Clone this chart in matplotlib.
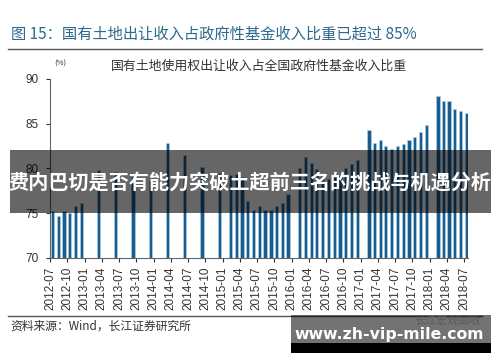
import matplotlib
matplotlib.use("Agg")
import matplotlib.pyplot as plt
from matplotlib.patches import Rectangle
import pandas as pd

# ---- data ----
months = ['2012-07', '2012-08', '2012-09', '2012-10', '2012-11', '2012-12',
          '2013-03', '2013-06', '2013-09', '2013-12',
          '2014-03', '2014-06', '2014-09', '2014-12',
          '2015-02', '2015-03', '2015-04', '2015-05', '2015-06', '2015-07',
          '2015-08', '2015-09', '2015-10', '2015-11', '2015-12',
          '2016-02', '2016-03', '2016-04', '2016-05', '2016-06', '2016-07',
          '2016-08', '2016-09', '2016-10', '2016-11', '2016-12',
          '2017-02', '2017-03', '2017-04', '2017-05', '2017-06', '2017-07',
          '2017-08', '2017-09', '2017-10', '2017-11', '2017-12',
          '2018-02', '2018-03', '2018-04', '2018-05', '2018-06', '2018-07']
share = [75.2, 74.7, 75.2, 75.0, 75.8, 76.1,
         79.8, 79.6, 79.0, 78.6,
         82.9, 81.5, 80.2, 79.5,
         79.3, 79.4, 79.0, 76.4, 75.4, 75.8,
         75.4, 75.4, 75.8, 76.2, 77.2,
         80.1, 81.3, 80.6, 79.9, 79.1, 78.8,
         79.0, 79.3, 80.0, 80.5, 81.0,
         84.3, 82.8, 83.2, 82.5, 82.2, 82.5,
         82.7, 83.2, 83.5, 84.1, 84.9,
         88.1, 87.5, 87.5, 86.7, 86.4, 86.2]
tick_labels = ['2012-07', '2012-10', '2013-01', '2013-04', '2013-07', '2013-10',
               '2014-01', '2014-04', '2014-07', '2014-10', '2015-01', '2015-04',
               '2015-07', '2015-10', '2016-01', '2016-04', '2016-07', '2016-10',
               '2017-01', '2017-04', '2017-07', '2017-10', '2018-01', '2018-04',
               '2018-07']
y_ticks = [70, 75, 80, 85, 90]

title = '图 15：国有土地出让收入占政府性基金收入比重已超过 85%'
chart_title = '国有土地使用权出让收入占全国政府性基金收入比重'
unit = '(%)'
source = '资料来源：Wind，长江证券研究所'
headline = '费内巴切是否有能力突破土超前三名的挑战与机遇分析'
watermark = 'www.zh-vip-mile.com'
faint_mark = '长江宏观固收'

CJK = ['Noto Sans CJK SC', 'DejaVu Sans']
W, H = 500, 362

def fx(x):
    return x / W

def fy(y):
    return 1 - y / H

fig = plt.figure(figsize=(W / 100, H / 100), dpi=100)
fig.patch.set_facecolor('white')

ax = fig.add_axes([fx(50), fy(258), fx(468) - fx(50), fy(79) - fy(258)])
dates = pd.to_datetime(months) + pd.Timedelta(days=12)
ax.bar(dates, share, width=17, color='#1d5b8a', edgecolor='#a9d3ea',
       linewidth=0.5, zorder=2)
ax.set_ylim(70, 90)
ax.set_yticks(y_ticks)
ax.set_xlim(pd.Timestamp('2012-07-01'), pd.Timestamp('2018-07-22'))
ax.set_xticks(pd.to_datetime(tick_labels))
ax.set_xticklabels(tick_labels, rotation=90, fontsize=8.5,
                   family='Liberation Sans', color='#333333')
ax.tick_params(axis='y', labelsize=8.5, colors='#333333', length=3, pad=5,
               width=0.8)
ax.tick_params(axis='x', length=3, pad=3, width=0.8, colors='#333333')
for lab in ax.get_yticklabels():
    lab.set_family('Liberation Sans')
for s in ['top', 'right']:
    ax.spines[s].set_visible(False)
for s in ['left', 'bottom']:
    ax.spines[s].set_color('#666666')
    ax.spines[s].set_linewidth(0.8)
ax.set_facecolor('white')

# titles and frame texts
fig.text(fx(11), fy(34), title, family=CJK, fontsize=11, color='#2a6a8e',
         va='center', ha='left')
fig.add_artist(plt.Line2D([fx(8), fx(482)], [fy(48.5), fy(48.5)],
                          color='#555555', lw=1.0))
fig.text(fx(60), fy(64), unit, family=CJK, fontsize=5.5, color='#333333',
         va='center', ha='center')
fig.text(fx(259), fy(66), chart_title, family=CJK, fontsize=9.3,
         color='#333333', va='center', ha='center')
fig.add_artist(plt.Line2D([fx(8), fx(482)], [fy(316), fy(316)],
                          color='#555555', lw=1.0))
fig.text(fx(10), fy(326), source, family=CJK, fontsize=8.5, color='#333333',
         va='center', ha='left')

# overlay band with headline
fig.add_artist(Rectangle((fx(10), fy(213)), fx(491) - fx(10), fy(150) - fy(213),
                         transform=fig.transFigure, facecolor='black',
                         alpha=0.6, edgecolor='none', zorder=5))
fig.text(fx(250), fy(182), headline, family=CJK, fontsize=14.5,
         weight='bold', color='white', va='center', ha='center', zorder=6)

# watermark box
fig.text(fx(448), fy(320), faint_mark, family=CJK, fontsize=8, color='#c8c8c8',
         va='center', ha='center', zorder=4)
fig.add_artist(Rectangle((fx(291), fy(343)), fx(491) - fx(291), fy(315) - fy(343),
                         transform=fig.transFigure, facecolor='black',
                         alpha=0.55, edgecolor='none', zorder=5))
fig.add_artist(Rectangle((fx(291), fy(353)), fx(491) - fx(291), fy(343) - fy(353),
                         transform=fig.transFigure, facecolor='black',
                         edgecolor='none', zorder=5))
fig.text(fx(389), fy(334), watermark, family='DejaVu Sans', fontsize=11.3,
         weight='bold', color='white', va='center', ha='center', zorder=6)

fig.savefig('out.png', dpi=100, facecolor='white')
